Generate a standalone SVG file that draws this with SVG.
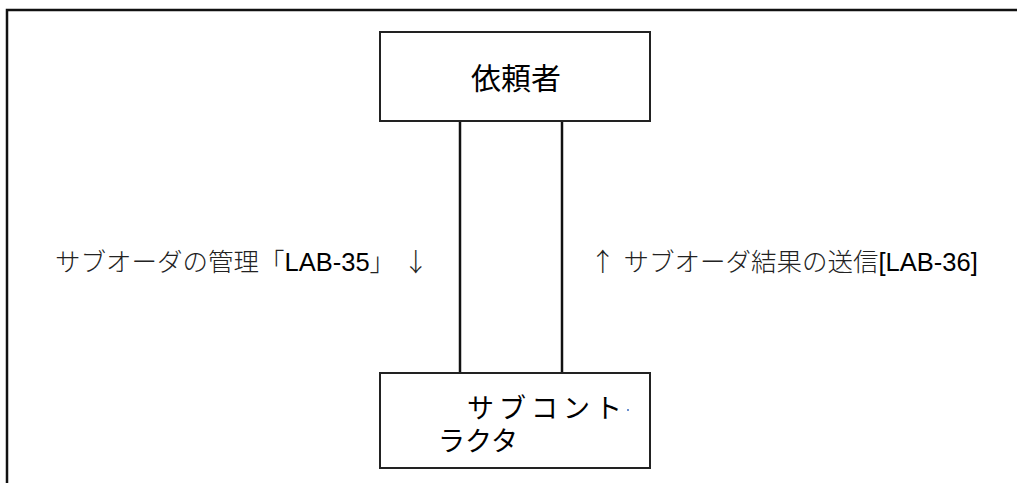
<svg xmlns="http://www.w3.org/2000/svg" width="1017" height="483" viewBox="0 0 1017 483">
<style>
.box{fill:#fff;stroke:#222;stroke-width:2}
.frame{fill:none;stroke:#111;stroke-width:2.5}
.conn{stroke:#111;stroke-width:2.5;fill:none}
.jp{font-family:"Noto Sans CJK JP","Liberation Serif",serif;font-weight:300;fill:#222}
.box-jp{font-family:"Noto Sans CJK JP","Liberation Serif",serif;font-weight:400;fill:#000}
.arr{font-family:"Noto Sans CJK JP",sans-serif;font-weight:300;fill:#222}
.lat{font-family:"Liberation Sans",Arial,sans-serif;fill:#000}
.title{font-family:"Noto Sans CJK JP","Liberation Sans",sans-serif;font-weight:400;fill:#000}
</style>
<rect width="1017" height="483" fill="#fff"/>
<path class="frame" d="M7,483 V10 H1017"/>
<g id="connectors">
<line class="conn" x1="460" y1="121" x2="460" y2="373"/>
<line class="conn" x1="562" y1="121" x2="562" y2="373"/>
</g>
<g id="node-requester">
<rect class="box" x="380" y="32" width="270" height="89"/>
<text class="title" x="516" y="89" font-size="30" text-anchor="middle">依頼者</text>
</g>
<g id="node-subcontractor">
<rect class="box" x="380" y="373" width="270" height="95"/>
<text class="box-jp" font-size="27"><tspan x="467" y="418" letter-spacing="5">サブコント</tspan><tspan x="438" y="451">ラクタ</tspan></text>
<rect x="627" y="409" width="2" height="2" fill="#6a8fd0"/>
</g>
<g id="labels">
<text x="55" y="271" font-size="25.5"><tspan class="jp">サブオーダの管理「</tspan><tspan class="lat">LAB-35</tspan><tspan class="jp">」</tspan><tspan class="arr" dx="8">↓</tspan></text>
<text x="590" y="271" font-size="25.5"><tspan class="arr">↑</tspan><tspan class="jp" dx="8">サブオーダ結果の送信</tspan><tspan class="lat">[LAB-36]</tspan></text>
</g>
</svg>
